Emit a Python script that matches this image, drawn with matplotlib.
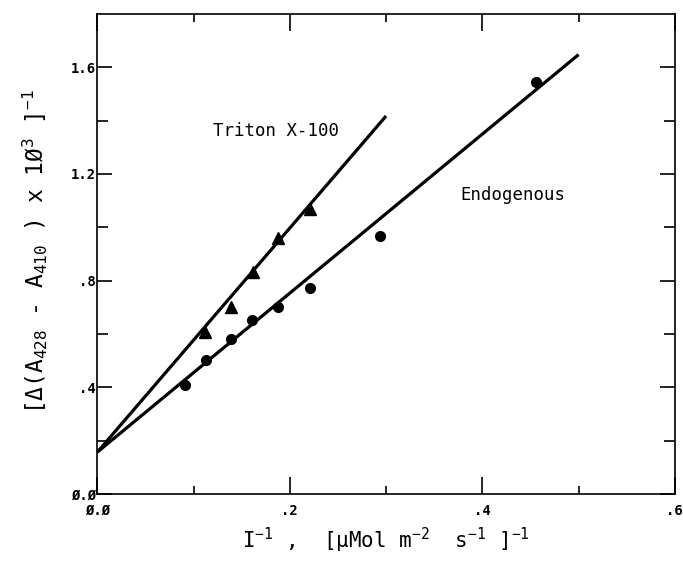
import numpy as np
import matplotlib.pyplot as plt
from matplotlib.ticker import FixedLocator, FuncFormatter

# Данные
endo_x = [0.091, 0.113, 0.139, 0.161, 0.188, 0.221, 0.294, 0.456]
endo_y = [0.408, 0.502, 0.580, 0.654, 0.702, 0.771, 0.967, 1.546]

triton_x = [0.112, 0.139, 0.162, 0.188, 0.221]
triton_y = [0.608, 0.702, 0.832, 0.961, 1.067]

# Линии регрессии: пересечение, наклон, конец по x
endo_fit = (0.157, 2.98, 0.50)
triton_fit = (0.157, 4.20, 0.30)

x_major = [0.0, 0.2, 0.4, 0.6]
x_minor = [0.1, 0.3, 0.5]
y_major = [0.0, 0.4, 0.8, 1.2, 1.6]
y_minor = [0.2, 0.6, 1.0, 1.4]

plt.rcParams['mathtext.fontset'] = 'custom'
plt.rcParams['mathtext.rm'] = 'DejaVu Sans Mono'
plt.rcParams['mathtext.it'] = 'DejaVu Sans Mono'
plt.rcParams['mathtext.bf'] = 'DejaVu Sans Mono:bold'


def tick_text(v, pos):
    if abs(v) < 1e-9:
        return 'Ø.Ø'
    s = '%.1f' % v
    if s.startswith('0'):
        s = s[1:]
    return s


def main():
    fig = plt.figure(figsize=(6.83, 5.61), dpi=100)
    ax = fig.add_axes([0.1425, 0.1194, 0.8455, 0.856])

    for b, k, xe in (endo_fit, triton_fit):
        xs = np.array([0.0, xe])
        ax.plot(xs, b + k * xs, color='black', lw=2.3, solid_capstyle='butt')

    ax.plot(endo_x, endo_y, 'o', color='black', ms=7)
    ax.plot(triton_x, triton_y, '^', color='black', ms=8)

    ax.set_xlim(0, 0.6)
    ax.set_ylim(0, 1.8)

    ax.xaxis.set_major_locator(FixedLocator(x_major))
    ax.xaxis.set_minor_locator(FixedLocator(x_minor))
    ax.yaxis.set_major_locator(FixedLocator(y_major))
    ax.yaxis.set_minor_locator(FixedLocator(y_minor))
    ax.xaxis.set_major_formatter(FuncFormatter(tick_text))
    ax.yaxis.set_major_formatter(FuncFormatter(tick_text))

    ax.tick_params(which='both', direction='in', top=True, right=True, width=1.2)
    ax.tick_params(axis='x', which='major', length=12, pad=7)
    ax.tick_params(axis='x', which='minor', length=6)
    ax.tick_params(axis='y', which='major', length=11, pad=1)
    ax.tick_params(axis='y', which='minor', length=8)
    for lab in ax.get_xticklabels() + ax.get_yticklabels():
        lab.set_fontfamily('DejaVu Sans Mono')
        lab.set_fontweight('bold')
        lab.set_fontsize(10)
    for sp in ax.spines.values():
        sp.set_linewidth(1.2)

    mono = 'DejaVu Sans Mono'
    ax.text(0.1205, 1.36, 'Triton X-100', fontsize=12.5, family=mono,
            va='center', ha='left')
    ax.text(0.377, 1.122, 'Endogenous', fontsize=12.5, family=mono,
            va='center', ha='left')

    ax.set_ylabel('[Δ(A$_{428}$ - A$_{410}$ ) x 1Ø$^{3}$ ]$^{-1}$',
                  fontsize=16.5, family=mono)
    ax.yaxis.label.set_va('center')
    ax.yaxis.set_label_coords(-0.108, 0.504)
    ax.set_xlabel('I$^{-1}$ ,  [μMol m$^{-2}$  s$^{-1}$ ]$^{-1}$',
                  fontsize=15, family=mono, labelpad=6)

    fig.savefig('out.png', dpi=100)


if __name__ == '__main__':
    main()
